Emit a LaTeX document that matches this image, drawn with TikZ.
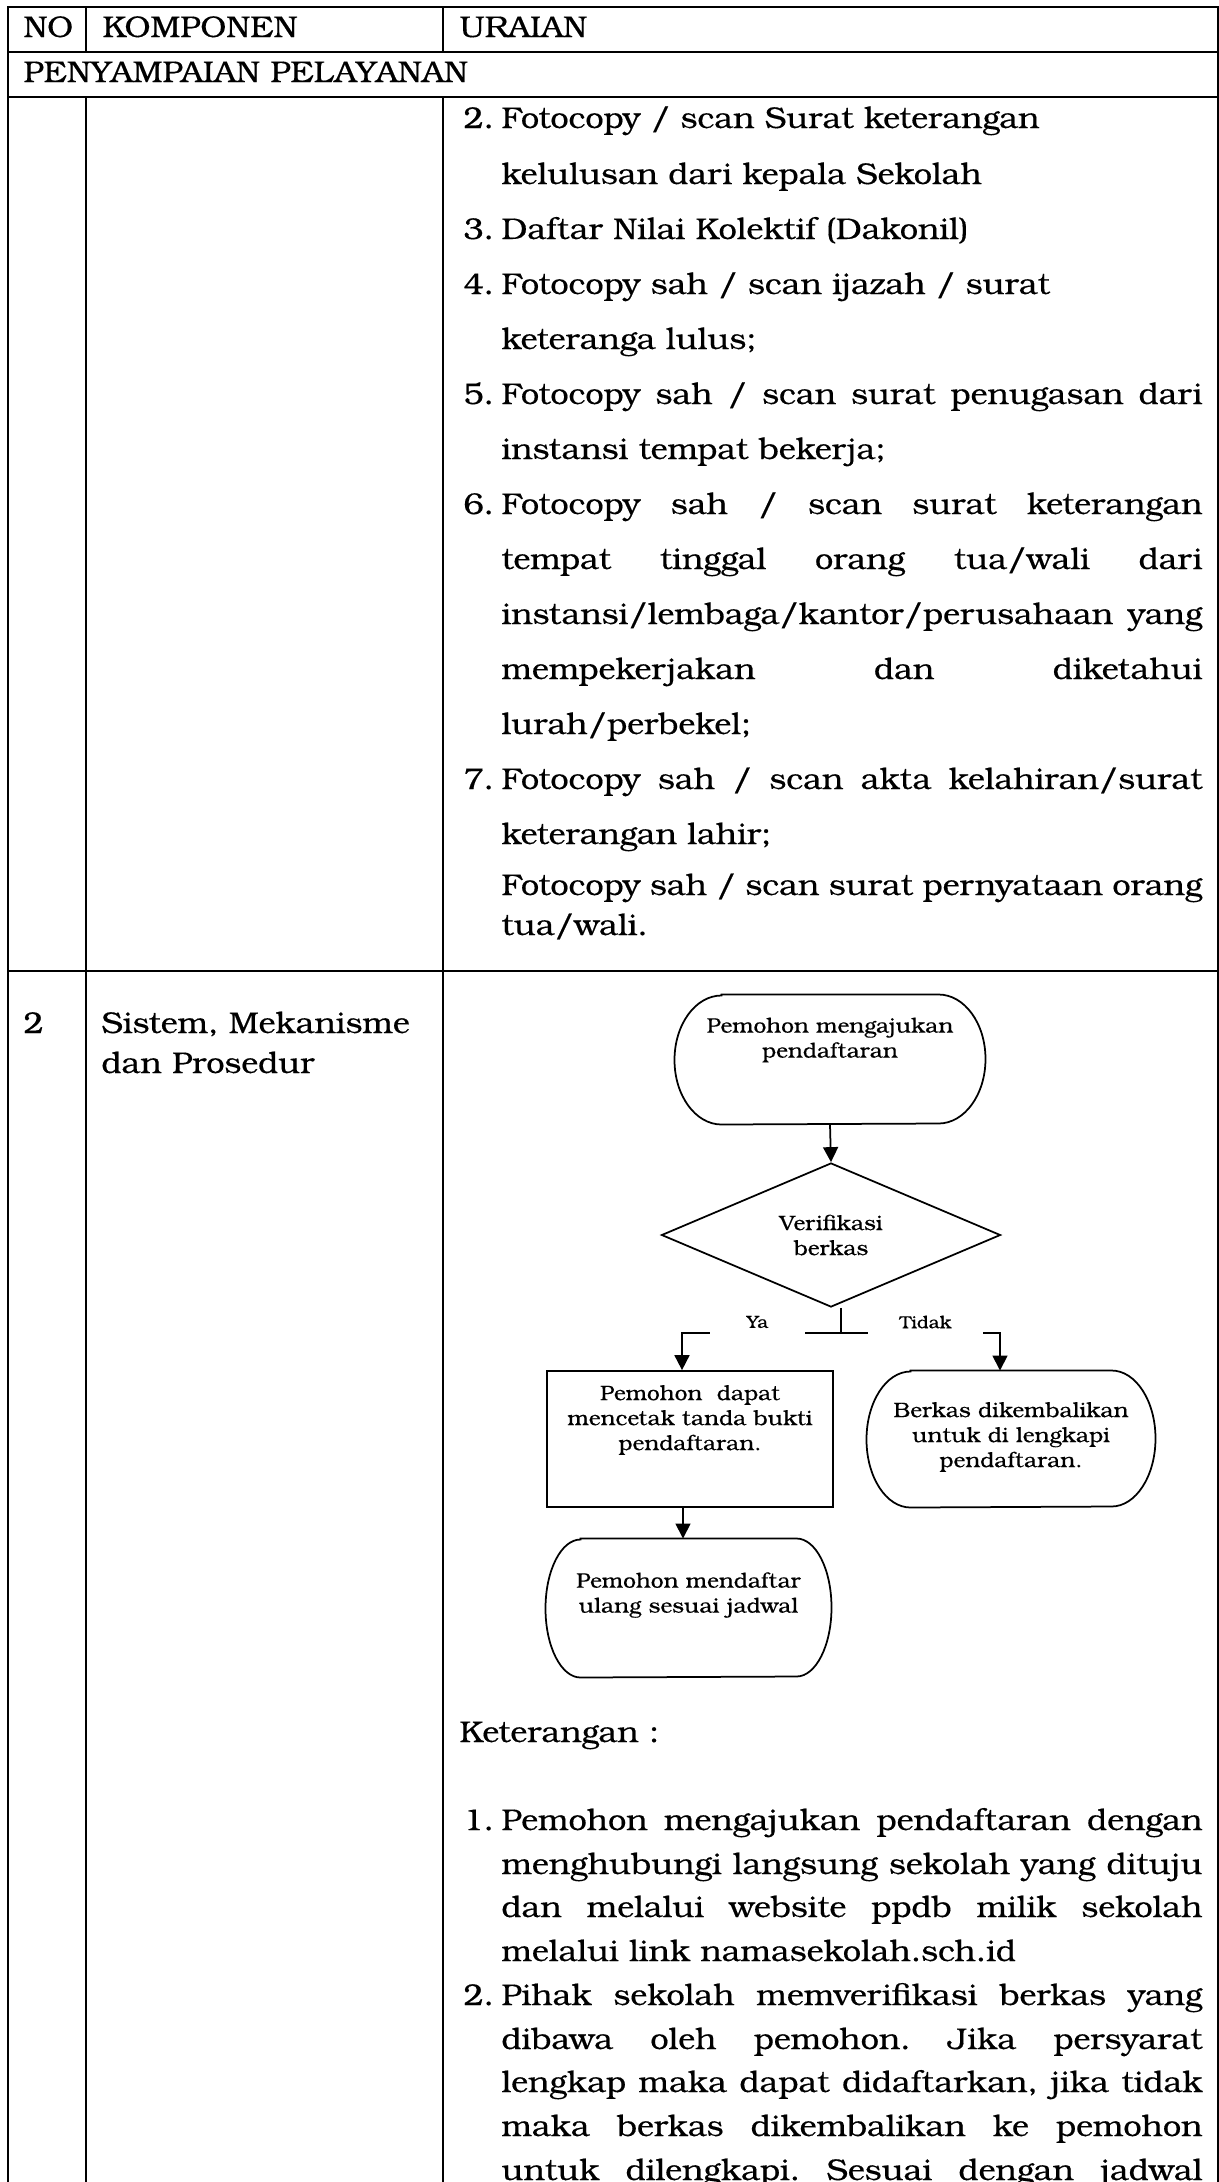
\documentclass[tikz,border=0pt]{standalone}
\usepackage{fontspec}
\setmainfont{TeX Gyre Bonum}[FakeStretch=1.08,FakeBold=0.4]
\usetikzlibrary{shapes.geometric,arrows.meta}

% one text line of the table, baseline at the given point
\newcommand\PLine[3]{\node[txt] (#1) at (501,#2) {#3};}
% a justified line of the table
\newcommand\JLine[3]{\node[txt] (#1) at (501,#2) {\makebox[280.4pt][s]{#3}};}
% list number
\newcommand\NumAt[3]{\node[txt] (#1) at (463,#2) {#3};}
% terminator outline around a named node: name, end x radius, end y radius
\newcommand\termshape[3]{%
  \draw[flow] ([xshift=#2]#1.north west) -- ([xshift=-#2]#1.north east)
    arc[start angle=90,end angle=-90,x radius=#2,y radius=#3]
    -- ([xshift=#2]#1.south west)
    arc[start angle=270,end angle=90,x radius=#2,y radius=#3] -- cycle;}

\begin{document}
\frenchspacing
\begin{tikzpicture}[x=0.4pt,y=-0.4pt,
  grid/.style={line width=0.8pt},
  txt/.style={anchor=base west,inner sep=0pt,font=\fontsize{12}{14}\selectfont},
  flow/.style={line width=0.7pt},
  arr/.style={flow,-{Triangle[length=6pt,width=6pt]}},
  ftext/.style={align=center,inner sep=0pt,font=\fontsize{8.4}{10}\selectfont},
  lbl/.style={fill=white,inner sep=0pt,font=\fontsize{7}{9}\selectfont},
  shapebox/.style={inner sep=0pt,draw=none,shape=rectangle}]

\useasboundingbox (0,0) rectangle (1219,2182);

% table rules
\draw[grid] (8,2190) -- (8,7) -- (1218,7) -- (1218,2190);
\draw[grid] (8,52) -- (1218,52);
\draw[grid] (8,97) -- (1218,97);
\draw[grid] (8,971) -- (1218,971);
\draw[grid] (86,7) -- (86,52);
\draw[grid] (443,7) -- (443,52);
\draw[grid] (86,97) -- (86,2190);
\draw[grid] (443,97) -- (443,2190);

% header
\node[txt] (hno) at (23,37) {NO};
\node[txt] (hkomp) at (102,37) {KOMPONEN};
\node[txt] (hur) at (459,37) {URAIAN};
\node[txt] (hsec) at (23,82) {PENYAMPAIAN PELAYANAN};

% requirements list
\NumAt{n2}{128}{2.}
\PLine{a1}{128}{Fotocopy / scan Surat keterangan}
\PLine{a2}{184}{kelulusan dari kepala Sekolah}
\NumAt{n3}{239}{3.}
\PLine{a3}{239}{Daftar Nilai Kolektif (Dakonil)}
\NumAt{n4}{294}{4.}
\PLine{a4}{294}{Fotocopy sah / scan ijazah / surat}
\PLine{a5}{349}{keteranga lulus;}
\NumAt{n5}{404}{5.}
\JLine{a6}{404}{Fotocopy sah / scan surat penugasan dari}
\PLine{a7}{459}{instansi tempat bekerja;}
\NumAt{n6}{514}{6.}
\JLine{a8}{514}{Fotocopy sah / scan surat keterangan}
\JLine{a9}{569}{tempat tinggal orang tua/wali dari}
\JLine{a10}{624}{instansi/lembaga/kantor/perusahaan yang}
\JLine{a11}{679}{mempekerjakan dan diketahui}
\PLine{a12}{734}{lurah/perbekel;}
\NumAt{n7}{789}{7.}
\JLine{a13}{789}{Fotocopy sah / scan akta kelahiran/surat}
\PLine{a14}{844}{keterangan lahir;}
\JLine{a15}{895}{Fotocopy sah / scan surat pernyataan orang}
\PLine{a16}{935}{tua/wali.}

% second row, left cells
\node[txt] (rno) at (23,1033) {2};
\node[txt] (rk1) at (101,1033) {Sistem, Mekanisme};
\node[txt] (rk2) at (101,1073) {dan Prosedur};

% flowchart
\node[shapebox,minimum width=124pt,minimum height=51.6pt] (start) at (830,1059.5) {};
\termshape{start}{18.8pt}{25.8pt}
\node[ftext] (startT) at (830,1040) {Pemohon mengajukan\\pendaftaran};

\node[draw,flow,shape=diamond,inner sep=0pt,minimum width=135.6pt,minimum height=50.4pt,
      ftext] (dec) at (831,1235) {Verifikasi\\berkas};

\node[draw,flow,shapebox,draw,minimum width=114.4pt,minimum height=54.4pt] (ok) at (690,1439) {};
\node[ftext] (okT) at (690,1420) {Pemohon\ \ dapat\\mencetak tanda bukti\\pendaftaran.};

\node[shapebox,minimum width=115.2pt,minimum height=54.4pt] (no) at (1011,1439) {};
\termshape{no}{17.6pt}{27.2pt}
\node[ftext] (noT) at (1011,1437) {Berkas dikembalikan\\untuk di lengkapi\\pendaftaran.};

\node[shapebox,minimum width=114pt,minimum height=55.2pt] (fin) at (688.5,1608) {};
\termshape{fin}{14pt}{27.6pt}
\node[ftext] (finT) at (688.5,1595) {Pemohon mendaftar\\ulang sesuai jadwal};

% connectors
\draw[arr] (start.south) -- (dec.north);
\coordinate (split) at (841,1333);
\coordinate (yesturn) at (682,1333);
\coordinate (noturn) at (1000,1333);
\draw[flow] (split |- dec.south) -- (split);
\draw[arr] (split) -- (yesturn) -- (yesturn |- ok.north);
\draw[arr] (split) -- (noturn) -- (noturn |- no.north);
\coordinate (down) at (683,1520);
\draw[arr] (down |- ok.south) -- (down |- fin.north);

% branch labels
\node[lbl,minimum width=38pt,minimum height=12pt] (ya) at (757.5,1322) {Ya};
\node[lbl,minimum width=46pt,minimum height=12pt] (tidak) at (925.5,1322) {Tidak};

% notes
\node[txt] (ket) at (459,1742) {Keterangan :};
\NumAt{m1}{1830}{1.}
\JLine{b1}{1830}{Pemohon mengajukan pendaftaran dengan}
\JLine{b2}{1874}{menghubungi langsung sekolah yang dituju}
\JLine{b3}{1917}{dan melalui website ppdb milik sekolah}
\PLine{b4}{1961}{melalui link namasekolah.sch.id}
\NumAt{m2}{2005}{2.}
\JLine{b5}{2005}{Pihak sekolah memverifikasi berkas yang}
\JLine{b6}{2049}{dibawa oleh pemohon. Jika persyarat}
\JLine{b7}{2092}{lengkap maka dapat didaftarkan, jika tidak}
\JLine{b8}{2136}{maka berkas dikembalikan ke pemohon}
\JLine{b9}{2180}{untuk dilengkapi. Sesuai dengan jadwal}
\end{tikzpicture}
\end{document}
